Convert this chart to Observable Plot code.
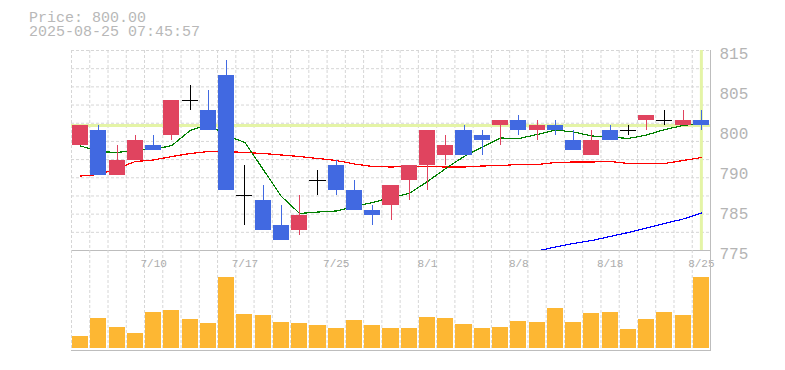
<!DOCTYPE html>
<html><head><meta charset="utf-8">
<script src="https://cdn.jsdelivr.net/npm/d3@7"></script>
<script src="https://cdn.jsdelivr.net/npm/@observablehq/plot@0.6"></script>
<style>
html,body{margin:0;padding:0;background:#fff;}
#chart{position:relative;width:785px;height:370px;overflow:hidden;font-family:"Liberation Mono",monospace;}
#title{position:absolute;left:29px;top:12px;font-size:15px;line-height:14.3px;color:#b8b8b8;white-space:pre;}
#price,#volume{position:absolute;left:0;}
#price{top:0;}
#volume{top:250px;}
</style></head><body>
<div id="chart"><div id="title"></div><div id="price"></div><div id="volume"></div></div>
<script>
const titleLines = ["Price: 800.00", "2025-08-25 07:45:57"];
const dates = ["7/4","7/7","7/8","7/9","7/10","7/11","7/14","7/15","7/16","7/17","7/18","7/22","7/23","7/24","7/25","7/28","7/29","7/30","7/31","8/1","8/4","8/5","8/6","8/7","8/8","8/12","8/13","8/14","8/15","8/18","8/19","8/20","8/21","8/22","8/25"];
const open  = [796,799,790,793,796,798,805,803,810,786,785,780,779,789,792,787,783,784,789,792,794,799,798,800,801,799,800,797,794,799,799,801,801,800,801];
const high  = [800,800,796,798,798,805,808,807,813,792,788,784,786,791,793,789,784,788,792,799,798,800,799,801,802,801,801,799,799,800,800,802,803,803,803];
const low   = [796,790,790,793,795,797,803,799,787,780,779,777,778,786,786,783,780,781,785,787,792,794,794,796,798,797,798,795,794,797,798,799,800,800,799];
const close = [800,790,793,797,795,805,805,799,787,786,779,777,782,789,787,783,782,788,792,799,796,794,797,801,799,800,799,795,797,797,799,802,801,801,800];
const volume = [1200,3000,2100,1500,3600,3770,2900,2500,7100,3400,3270,2600,2500,2300,2000,2800,2300,2000,2000,3100,3000,2400,2000,2100,2700,2600,4000,2600,3500,3600,1900,2900,3600,3300,7100];
const ma5  = [795.9,794.8,794.6,795.1,795.2,796.0,799.0,800.2,798.0,796.6,791.2,785.8,782.4,782.7,782.9,783.8,784.6,785.6,786.4,788.8,791.4,793.8,795.7,797.5,797.4,798.2,799.1,798.7,797.9,797.7,797.4,798.1,799.2,800.0,800.5];
const ma25 = [789.9,790.2,791.4,792.8,793.1,793.8,794.4,794.8,794.8,794.6,794.4,794.1,793.8,793.4,793.0,792.3,791.8,791.7,791.8,791.8,791.7,791.7,791.9,792.0,792.2,792.2,792.6,792.7,792.7,792.8,792.4,792.4,792.4,793.0,793.6];
const ma75 = [null,null,null,null,null,null,null,null,null,null,null,null,null,null,null,null,null,null,null,null,null,null,null,null,null,774.9,775.7,776.4,777.0,777.8,778.6,779.5,780.4,781.3,782.5];
const lastPrice = 800;
const yDomain = [775, 815];
const yTicks = [815, 807, 799, 791, 783, 775];
const yTickLabels = ["815", "805", "800", "790", "785", "775"];
const xTickDates = ["7/10", "7/17", "7/25", "8/1", "8/8", "8/18", "8/25"];

document.getElementById("title").textContent = titleLines.join("\n");

const rows = dates.map((d, i) => ({i, date: d, open: open[i], high: high[i], low: low[i], close: close[i], vol: volume[i], ma5: ma5[i], ma25: ma25[i], ma75: ma75[i]}));
const UP = "#e0445f", DOWN = "#4169e1", DOJI = "#000000";
const colorOf = r => r.close > r.open ? UP : r.close < r.open ? DOWN : DOJI;
const half = 0.44;
const n = dates.length;
const gridX = d3.range(n).map(i => i - 0.5);
const gridY = d3.range(11).map(k => yDomain[1] - k * (yDomain[1] - yDomain[0]) / 11);
const labelMap = new Map(yTicks.map((v, i) => [v, yTickLabels[i]]));
const GRID = "#d6d6d6", FRAME = "#bdbdbd", HL = "#e4f4a6";

const common = {width: 785, marginLeft: 71, marginRight: 75, x: {domain: [-0.5, n - 0.5], axis: null}, color: {type: "identity"}};

const price = Plot.plot({
  ...common,
  height: 255, marginTop: 50, marginBottom: 5,
  y: {domain: yDomain, axis: null},
  style: {background: "transparent", overflow: "visible", fontFamily: "Liberation Mono, monospace"},
  marks: [
    Plot.ruleY(gridY, {stroke: GRID, strokeDasharray: "3,2"}),
    Plot.ruleX(gridX, {stroke: GRID, strokeDasharray: "3,2"}),
    Plot.ruleY([lastPrice], {stroke: HL, strokeWidth: 3}),
    Plot.ruleX([n - 1], {stroke: HL, strokeWidth: 3}),
    Plot.line(rows, {x: "i", y: "ma25", stroke: "#ff0000", strokeWidth: 1.2, shapeRendering: "crispEdges"}),
    Plot.line(rows, {x: "i", y: "ma5", stroke: "#008000", strokeWidth: 1.2, shapeRendering: "crispEdges"}),
    Plot.line(rows.filter(r => r.ma75 != null), {x: "i", y: "ma75", stroke: "#0000ff", strokeWidth: 1.2, clip: true, shapeRendering: "crispEdges"}),
    Plot.ruleX(rows, {x: "i", y1: "low", y2: "high", stroke: colorOf, strokeWidth: 1, shapeRendering: "crispEdges"}),
    Plot.rect(rows.filter(r => r.open !== r.close), {x1: r => r.i - half, x2: r => r.i + half, y1: "open", y2: "close", fill: colorOf, shapeRendering: "crispEdges"}),
    Plot.ruleY(rows.filter(r => r.open === r.close), {x1: r => r.i - half, x2: r => r.i + half, y: "close", stroke: DOJI, strokeWidth: 1, shapeRendering: "crispEdges"}),
    Plot.frame({anchor: "bottom", stroke: FRAME}),
    Plot.frame({anchor: "right", stroke: FRAME}),
    Plot.axisY({anchor: "right", ticks: yTicks, tickFormat: d => labelMap.get(d), tickSize: 0, tickPadding: 9, fontSize: 16, dy: 3, color: "#b4b4b4", fontFamily: "Liberation Mono, monospace"})
  ]
});
document.getElementById("price").appendChild(price);

const vol = Plot.plot({
  ...common,
  height: 110, marginTop: 0, marginBottom: 10,
  y: {domain: [0, d3.max(volume)], range: [98, 27], axis: null},
  style: {background: "transparent", overflow: "visible", fontFamily: "Liberation Mono, monospace"},
  marks: [
    Plot.ruleX(gridX, {stroke: GRID, strokeDasharray: "3,2"}),
    Plot.rect(rows, {x1: r => r.i - half, x2: r => r.i + half, y1: 0, y2: "vol", fill: "#fdb733", shapeRendering: "crispEdges"}),
    Plot.text(xTickDates, {x: d => dates.indexOf(d), text: d => d, frameAnchor: "top", lineAnchor: "bottom", dy: 16, fontSize: 11, fill: "#acacac", fontFamily: "Liberation Mono, monospace"}),
    Plot.frame({anchor: "bottom", stroke: FRAME}),
    Plot.frame({anchor: "right", stroke: FRAME})
  ]
});
document.getElementById("volume").appendChild(vol);
</script>
</body></html>
